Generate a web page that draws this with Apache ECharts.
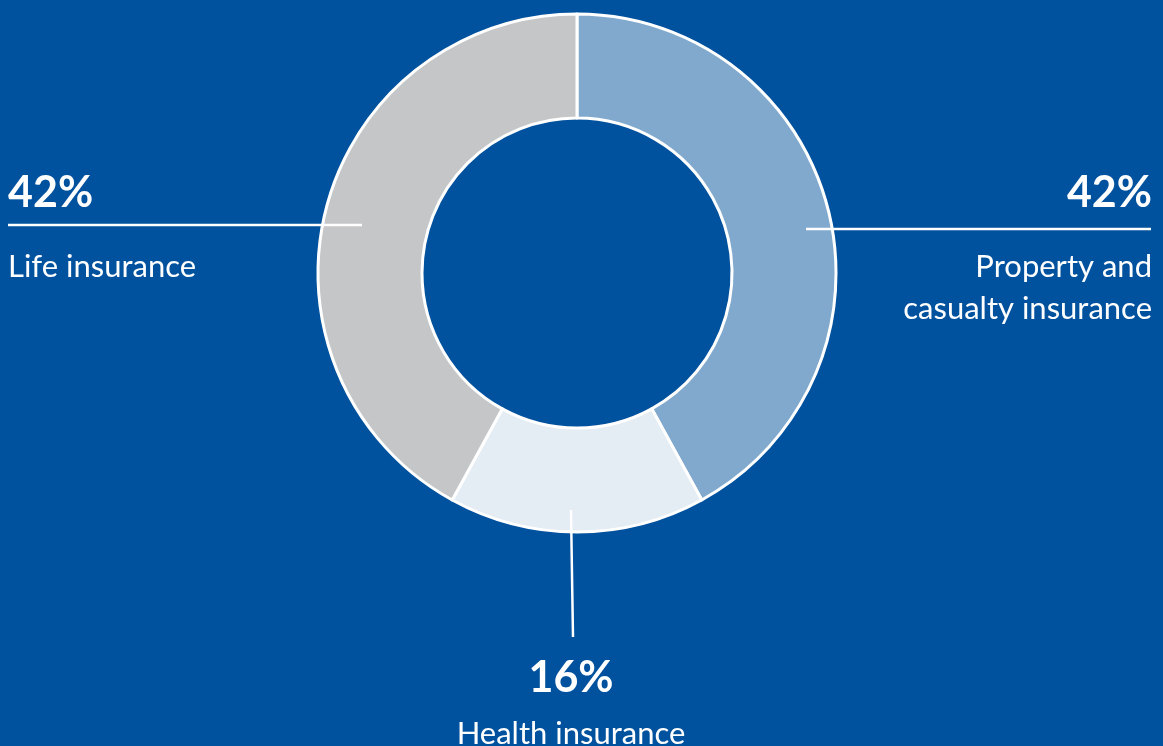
<!DOCTYPE html>
<html>
<head>
<meta charset="utf-8">
<script src="https://cdn.jsdelivr.net/npm/echarts@6/dist/echarts.min.js"></script>
<style>
  html, body { margin: 0; padding: 0; background: #00519e; }
  #chart { width: 1163px; height: 746px; }
</style>
</head>
<body>
<div id="chart"></div>
<script>
// segment data, clockwise from 12 o'clock
const categories = ['Property and\ncasualty insurance', 'Health insurance', 'Life insurance'];
const shares = [42, 16, 42];
const colors = ['#80a9cd', '#e4ecf4', '#c5c6c8'];

// where each label sits and how its leader line runs
const label_spots = [
    { x: 1152, y: 141, align: 'right', line: [[806, 229], [980, 229], [1151, 229]] },
    { x: 571, y: 643, align: 'center', line: [[571, 510], [572, 575], [573, 637]] },
    { x: 8, y: 141, align: 'left', line: [[362, 225], [180, 225], [8, 225]] },
];

let chart = echarts.init(document.getElementById('chart'));

let pie_base = {
    type: 'pie',
    center: [577, 273],
    radius: [155, 259],
    startAngle: 90,
    clockwise: true,
    avoidLabelOverlap: false,
    silent: true,
    emphasis: { disabled: true },
};

chart.setOption({
    backgroundColor: '#00519e',
    animation: false,
    series: [
        // the ring itself
        Object.assign({}, pie_base, {
            z: 2,
            data: categories.map((name, i) => ({ name: name, value: shares[i], itemStyle: { color: colors[i] } })),
            itemStyle: { borderColor: '#ffffff', borderWidth: 3 },
            label: { show: false },
            labelLine: { show: false },
        }),
        // same ring, invisible, only carrying labels + leader lines on top
        Object.assign({}, pie_base, {
            z: 5,
            data: categories.map((name, i) => ({ name: name, value: shares[i] })),
            itemStyle: { color: 'rgba(0,0,0,0)', borderWidth: 0 },
            label: {
                show: true,
                position: 'outside',
                color: '#ffffff',
                fontFamily: 'Lato',
                formatter: p => (p.dataIndex == 1 ? '{h|' : '{v|') + p.value + '%}\n' +
                    p.name.split('\n').map(s => '{n|' + s + '}').join('\n'),
                rich: {
                    v: { fontSize: 43, fontWeight: 'bold', lineHeight: 105, color: '#ffffff', fontFamily: 'Lato' },
                    h: { fontSize: 43, fontWeight: 'bold', lineHeight: 70, color: '#ffffff', fontFamily: 'Lato' },
                    n: { fontSize: 31, lineHeight: 42, color: '#ffffff', fontFamily: 'Lato' },
                },
            },
            labelLine: {
                show: true,
                showAbove: true,
                lineStyle: { color: '#ffffff', width: 2.5 },
            },
            labelLayout: params => {
                let spot = label_spots[params.dataIndex];
                return {
                    x: spot.x,
                    y: spot.y,
                    align: spot.align,
                    verticalAlign: 'top',
                    labelLinePoints: spot.line,
                };
            },
        }),
    ],
});
</script>
</body>
</html>
